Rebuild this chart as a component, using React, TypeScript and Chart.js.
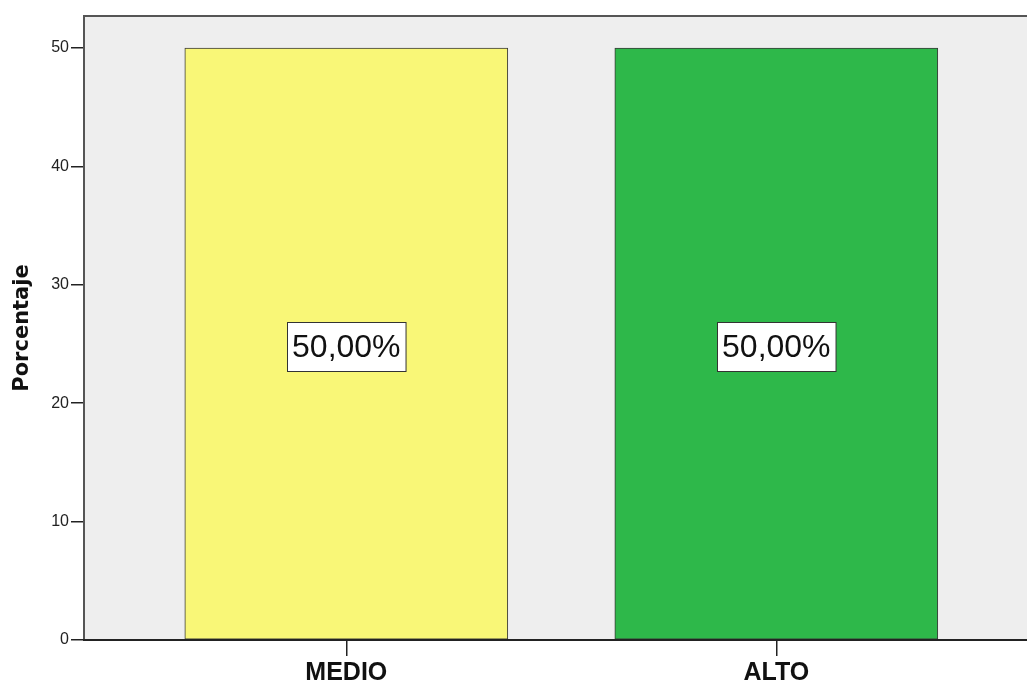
import React, { useEffect, useRef } from "react";
import { Chart, registerables } from "chart.js";

Chart.register(...registerables);

const categories = ["MEDIO", "ALTO"];
const values = [50, 50];
const valueLabels = ["50,00%", "50,00%"];
const barColors = ["#f9f777", "#2eb84a"];
const yTicks = [0, 10, 20, 30, 40, 50];
const yTitle = "Porcentaje";

const FONT = "'Liberation Sans', Arial, sans-serif";

const plotFrame = {
  id: "plotFrame",
  beforeDraw(chart: any) {
    const { ctx, chartArea: a } = chart;
    ctx.save();
    ctx.fillStyle = "#eeeeee";
    ctx.fillRect(a.left, a.top, a.right - a.left, a.bottom - a.top);
    ctx.restore();
  },
  afterDatasetsDraw(chart: any) {
    const { ctx, chartArea: a } = chart;
    ctx.save();
    ctx.strokeStyle = "#555555";
    ctx.lineWidth = 2;
    ctx.beginPath();
    ctx.moveTo(a.right + 2, a.top);
    ctx.lineTo(a.left, a.top);
    ctx.lineTo(a.left, a.bottom);
    ctx.stroke();
    ctx.strokeStyle = "#222222";
    ctx.beginPath();
    ctx.moveTo(a.left - 1, a.bottom);
    ctx.lineTo(a.right + 2, a.bottom);
    ctx.stroke();
    // value labels
    const meta = chart.getDatasetMeta(0);
    const yScale = chart.scales.y;
    ctx.font = `32px ${FONT}`;
    ctx.textAlign = "center";
    ctx.textBaseline = "middle";
    meta.data.forEach((bar: any, i: number) => {
      const cy = yScale.getPixelForValue(values[i] / 2) + 3;
      const text = valueLabels[i];
      const w = ctx.measureText(text).width + 10;
      const h = 49;
      const x0 = Math.round(bar.x - w / 2) + 0.5;
      const y0 = Math.round(cy - h / 2) + 0.5;
      ctx.fillStyle = "#ffffff";
      ctx.fillRect(x0, y0, w, h);
      ctx.strokeStyle = "#333333";
      ctx.lineWidth = 1;
      ctx.strokeRect(x0, y0, w, h);
      ctx.fillStyle = "#111111";
      ctx.fillText(text, bar.x, cy + 1);
    });
    ctx.restore();
  },
};

export default function App() {
  const ref = useRef<HTMLCanvasElement>(null);
  useEffect(() => {
    document.body.style.margin = "0";
    document.body.style.overflow = "hidden";
    const chart = new Chart(ref.current!, {
      type: "bar",
      data: {
        datasets: [
          {
            data: values.map((v, i) => ({ x: i, y: v })),
            backgroundColor: barColors,
            borderColor: "#3a3a3a",
            borderWidth: 1,
            borderSkipped: false,
            barThickness: 323,
          },
        ],
      },
      options: {
        responsive: false,
        animation: false,
        layout: { padding: { top: 16, right: 0, left: 0, bottom: 0 } },
        plugins: { legend: { display: false }, tooltip: { enabled: false } },
        scales: {
          x: {
            type: "linear",
            offset: false,
            min: -0.61,
            max: 1.583,
            afterBuildTicks: (s: any) => {
              s.ticks = categories.map((_, i) => ({ value: i }));
            },
            afterFit: (s: any) => {
              s.height = 46;
            },
            ticks: {
              autoSkip: false,
              maxRotation: 0,
              callback: (v: any) => categories[v as number] ?? "",
              font: { family: FONT, size: 25, weight: "bold" },
              color: "#111111",
              padding: 2,
            },
            grid: {
              offset: false,
              drawOnChartArea: false,
              tickLength: 16,
              color: "#222222",
              lineWidth: 1.5,
            },
            border: { display: false },
          },
          y: {
            min: 0,
            max: 52.7,
            afterBuildTicks: (s: any) => {
              s.ticks = yTicks.map((v) => ({ value: v }));
            },
            afterFit: (s: any) => {
              s.width = 84;
            },
            ticks: {
              font: { family: FONT, size: 16 },
              color: "#222222",
              padding: 2,
            },
            grid: {
              drawOnChartArea: false,
              tickLength: 13,
              color: "#222222",
              lineWidth: 1.5,
            },
            border: { display: false },
            title: {
              display: true,
              text: yTitle,
              font: { family: "'DejaVu Sans', sans-serif", size: 21, weight: "bold" },
              color: "#111111",
              padding: { top: 10, bottom: 4 },
            },
          },
        },
      },
      plugins: [plotFrame],
    });
    return () => chart.destroy();
  }, []);
  return (
    <div style={{ width: 1027, height: 686, overflow: "hidden" }}>
      <canvas ref={ref} width={1027} height={686} />
    </div>
  );
}
